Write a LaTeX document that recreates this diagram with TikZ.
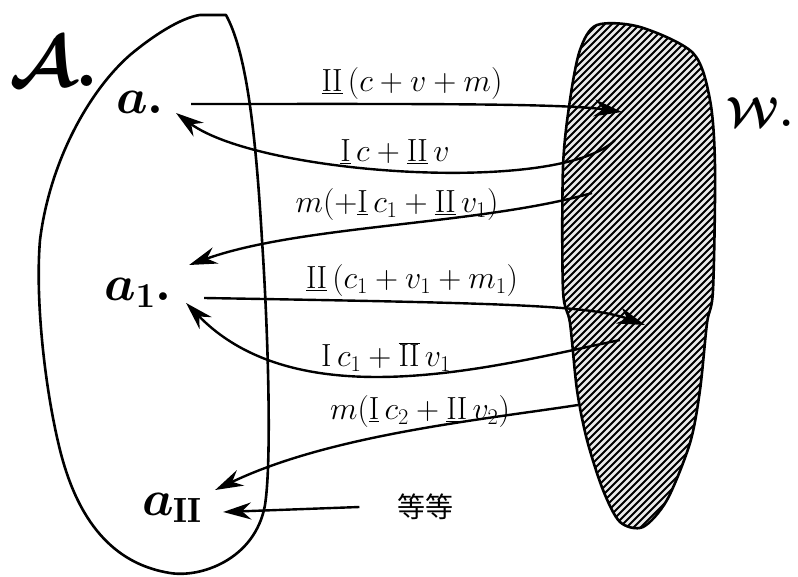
\RequirePackage{fix-cm}
\documentclass[tikz,border=0pt]{standalone}
\usepackage{fontspec}
\newfontfamily\cjk{Noto Sans CJK SC}
\usetikzlibrary{arrows.meta,calc}

\tikzset{
  outline/.style={line width=2.6pt, line join=round},
  flow/.style={line width=2.4pt, -{Stealth[length=28pt,width=17pt]}},
  amount/.style={font=\fontsize{32}{34}\selectfont, inner sep=0pt},
  sector/.style={font=\fontsize{50}{54}\selectfont\boldmath, inner sep=2pt},
}

\newcommand{\dI}{\underline{\mathrm{I}}\,}
\newcommand{\dII}{\underline{\mathrm{II}}\,}

\begin{document}
\begin{tikzpicture}[x=1pt,y=-1pt]
    \useasboundingbox (0,0) rectangle (798,577);

    % Sector W, hatched
    \begin{scope}
      \clip plot[smooth cycle] coordinates {(597,25) (640,27) (693,53) (710,100) (715,167) (713,290) (707,323) (700,390) (690,443) (667,500) (643,527) (620,522) (603,490) (587,440) (577,390) (570,323) (563,290) (563,167) (570,100) (580,50)};
      \fill[black!8] (550,10) rectangle (730,540);
      \foreach \k in {580,587,...,1250}
        \draw[line width=2pt] (\k-530,530) -- (\k-20,20);
    \end{scope}
    \draw[outline] plot[smooth cycle] coordinates {(597,25) (640,27) (693,53) (710,100) (715,167) (713,290) (707,323) (700,390) (690,443) (667,500) (643,527) (620,522) (603,490) (587,440) (577,390) (570,323) (563,290) (563,167) (570,100) (580,50)};

    % Sector A
    \draw[outline] (200,15) -- (226,15) .. controls (245,50) and (255,120) .. (262,240)
      .. controls (268,330) and (272,460) .. (265,505)
      .. controls (255,560) and (200,578) .. (170,573)
      .. controls (120,565) and (80,530) .. (60,450)
      .. controls (45,390) and (35,300) .. (40,240)
      .. controls (50,160) and (90,90) .. (130,55)
      .. controls (160,30) and (185,17) .. (200,15) -- cycle;

    % Names
    \node[font=\fontsize{72}{72}\selectfont\boldmath] (A) at (54,62) {$\mathcal{A}.$};
    \node[font=\fontsize{42}{42}\selectfont\boldmath] (W) at (760,112) {$\mathcal{W}.$};
    \node[sector] (a0) at (140,102) {$a.$};
    \node[sector] (a1) at (138,293) {$a_1.$};
    \node[sector] (a2) at (172,508) {$a_{\mathrm{II}}$};
    \node[font=\cjk\fontsize{28}{30}\selectfont] (etc) at (425,507) {等等};

    % Ends inside W
    \coordinate (w1) at (622,112);
    \coordinate (w2) at (615,140);
    \coordinate (w3) at (592,193);
    \coordinate (w4) at (645,325);
    \coordinate (w5) at (620,340);
    \coordinate (w6) at (578,405);

    % Flows
    \draw[flow] ($(a0.east)+(25,2)$) .. controls (400,104) and (560,103) .. (w1);
    \draw[flow] (w2) .. controls (560,195) and (260,175) .. ($(a0.east)+(10,11)$);
    \draw[flow] (w3) .. controls (480,225) and (300,225) .. ($(a1.east)+(15,-28)$);
    \draw[flow] ($(a1.east)+(30,5)$) .. controls (500,303) and (590,305) .. (w4);
    \draw[flow] (w5) .. controls (500,365) and (300,420) .. ($(a1.east)+(12,10)$);
    \draw[flow] (w6) .. controls (480,420) and (330,435) .. ($(a2.east)+(11,-18)$);
    \draw[flow] ($(etc.west)+(-34,0)$) -- ($(a2.east)+(19,4)$);

    % Amounts on the flows
    \node[amount] (l1) at (412,84) {$\dII(c+v+m)$};
    \node[amount] (l2) at (395,152) {$\dI c+\dII v$};
    \node[amount] (l3) at (397,205) {$m(+\dI c_1+\dII v_1)$};
    \node[amount] (l4) at (412,281) {$\dII(c_1+v_1+m_1)$};
    \node[amount] (l5) at (386,357) {$\mathrm{I}\,c_1+\overline{\mathrm{II}}\,v_1$};
    \node[amount] (l6) at (420,412) {$m(\dI c_2+\dII v_2)$};
\end{tikzpicture}
\end{document}
